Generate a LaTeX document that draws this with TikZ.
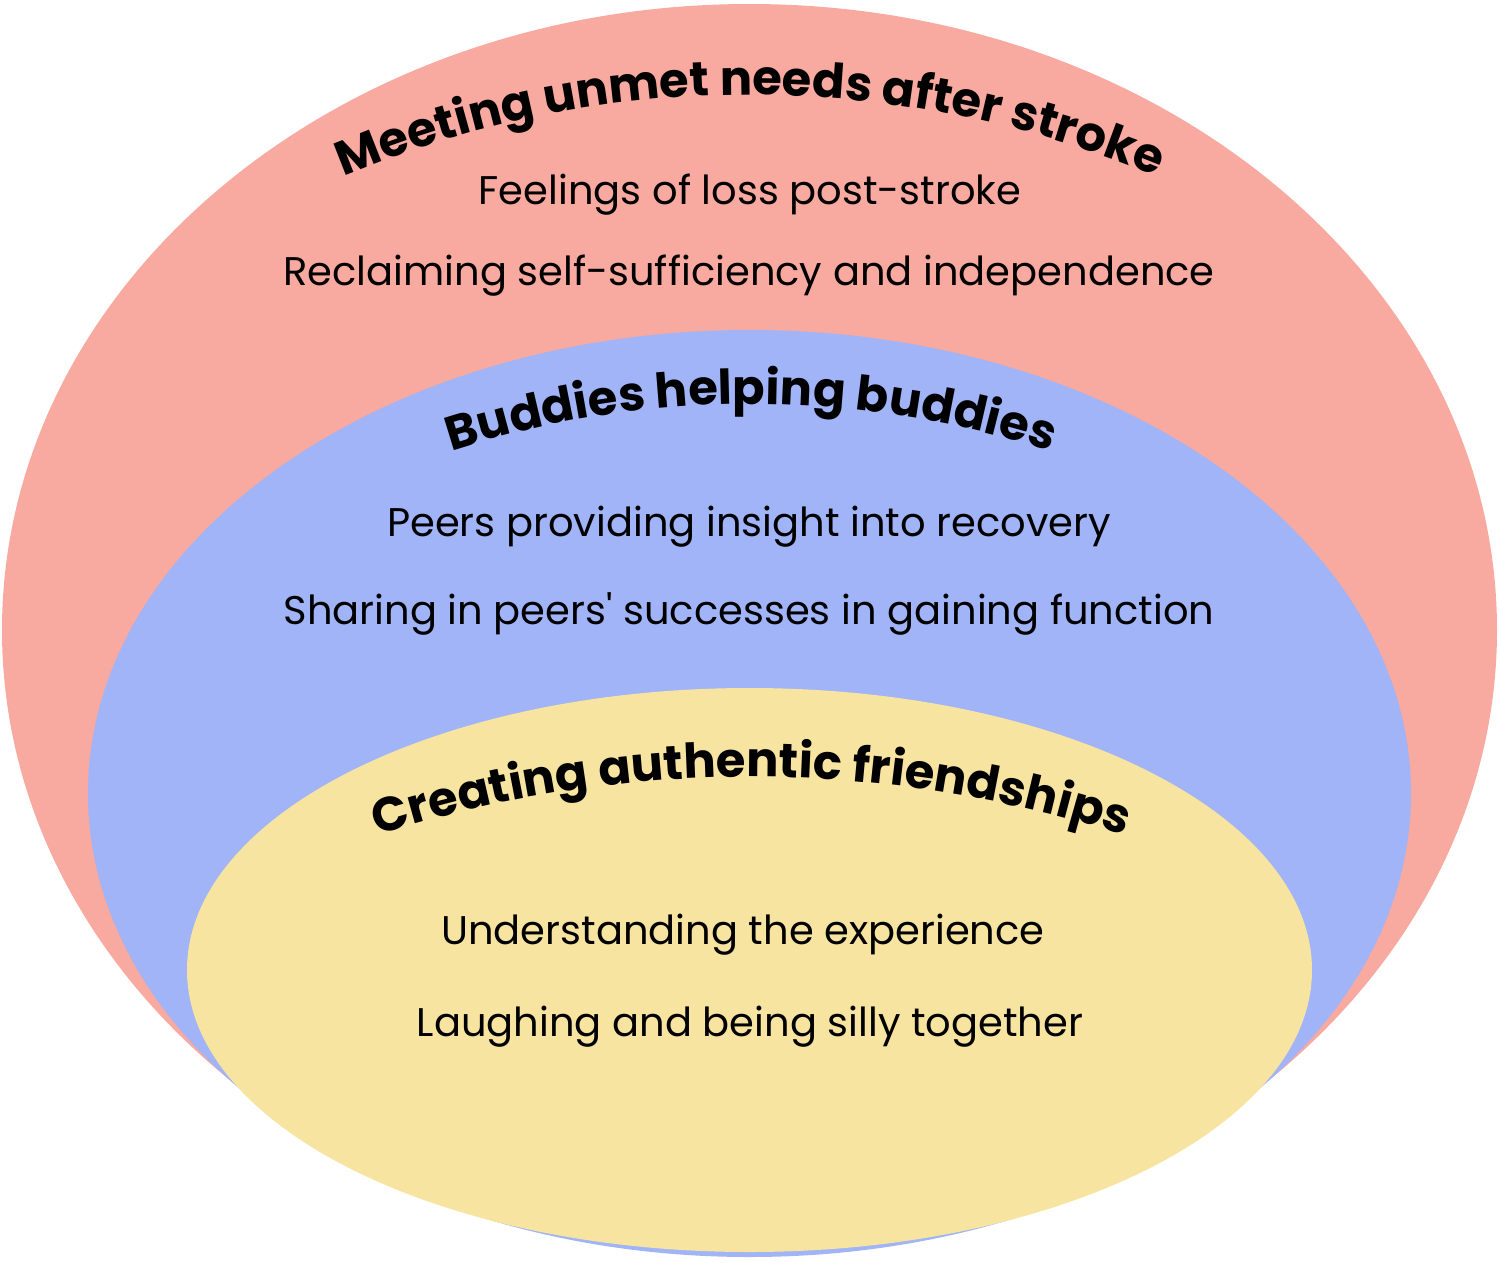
\documentclass[tikz,border=0pt]{standalone}
\usepackage{fontspec}
\setmainfont{Poppins}
\newfontfamily\titlefont{Poppins}
\newfontfamily\bodyfont{Poppins}
\usetikzlibrary{decorations.text}
\definecolor{outerred}{HTML}{F8A9A0}
\definecolor{midblue}{HTML}{A0B4F7}
\definecolor{inneryellow}{HTML}{F7E4A1}
\tikzset{
  x=1pt,y=1pt,
  item/.style={anchor=base, inner sep=0pt, font=\bodyfont\fontsize{40}{44}\selectfont},
  curvetitle/.style={decorate, decoration={text along path, text align=center,
     text={#1}}},
}
\begin{document}
\begin{tikzpicture}
\useasboundingbox (0,0) rectangle (1500,-1262);
% ellipses
\fill[outerred] (749.5,-630) ellipse [x radius=747.5pt, y radius=626pt];
\fill[midblue] (749.5,-793.5) ellipse [x radius=661.5pt, y radius=463.5pt];
\fill[inneryellow] (749.5,-970) ellipse [x radius=562.5pt, y radius=282pt];
% curved titles
\path[curvetitle={|\titlefont\bfseries\fontsize{48}{52}\selectfont|Meeting unmet needs after stroke}]
  (750,-1149) ++(130:1054pt) arc[start angle=130, end angle=50, radius=1054pt];
\path[curvetitle={|\titlefont\bfseries\fontsize{48}{52}\selectfont|Buddies helping buddies}]
  (751,-1372) ++(130:968pt) arc[start angle=130, end angle=50, radius=968pt];
\path[curvetitle={|\titlefont\bfseries\fontsize{48}{52}\selectfont|Creating authentic friendships}]
  (751,-1992) ++(125:1215pt) arc[start angle=125, end angle=55, radius=1215pt];
% items
\node[item] (f1) at (750,-204) {Feelings of loss post-stroke};
\node[item] (f2) at (749,-285) {Reclaiming self-sufficiency and independence};
\node[item] (b1) at (749,-536) {Peers providing insight into recovery};
\node[item] (b2) at (749,-624) {Sharing in peers' successes in gaining function};
\node[item] (c1) at (743,-944) {Understanding the experience};
\node[item] (c2) at (750,-1036) {Laughing and being silly together};
\end{tikzpicture}
\end{document}
